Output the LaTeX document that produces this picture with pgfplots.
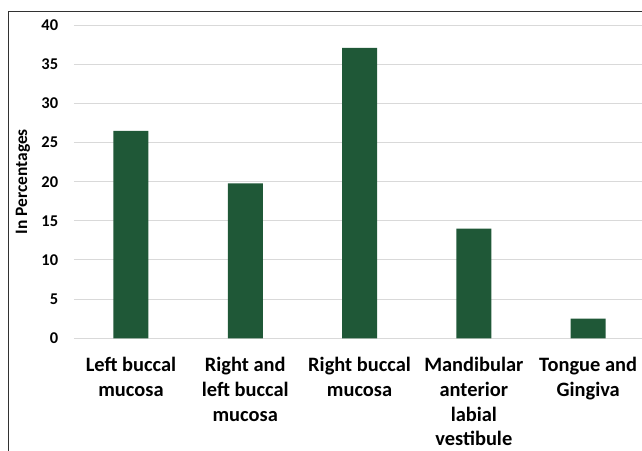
\documentclass[border=0pt]{standalone}
\usepackage{pgfplots}
\pgfplotsset{compat=1.18}
\usepackage{fontspec}
\setmainfont{Carlito}
\definecolor{barGreen}{RGB}{31,88,55}
\definecolor{gridGray}{RGB}{217,217,217}
\definecolor{frameGray}{RGB}{50,50,50}

\begin{document}
\begin{tikzpicture}[x=1bp,y=1bp]
\useasboundingbox (0,0) rectangle (642,451);
% chart area border (top and left edges)
\draw[frameGray, line width=1bp] (8.3,-5) -- (8.3,439.3) -- (660,439.3);
\begin{axis}[
  at={(73.8bp,112.7bp)}, anchor=south west,
  scale only axis, width=571.5bp, height=313.2bp,
  xmin=-0.5, xmax=4.5, ymin=0, ymax=40,
  enlargelimits=false,
  ybar, bar width=35bp,
  ytick={0,5,...,40},
  xtick={0,1,2,3,4},
  xticklabels={{Left buccal\\mucosa},{Right and\\left buccal\\mucosa},{Right buccal\\mucosa},{Mandibular\\anterior\\labial\\vestibule},{Tongue and\\Gingiva}},
  ymajorgrids, grid style={gridGray, line width=1bp},
  axis line style={draw=none},
  major tick length=0pt,
  /pgf/number format/assume math mode=true,
  yticklabel style={font=\fontsize{16.5}{19}\selectfont\bfseries, anchor=east, inner sep=0pt, xshift=-15.5bp},
  xticklabel style={font=\fontsize{20.5}{24.8}\selectfont\bfseries, align=center, anchor=north, inner sep=0pt, yshift=-19bp},
  every axis y label/.style={at={(axis description cs:-0.0889,0.5)}, rotate=90, anchor=center, font=\fontsize{17.5}{20}\selectfont\bfseries},
  ylabel={In Percentages},
  clip=false,
]
\addplot[fill=barGreen, draw=none] coordinates {(0,26.5) (1,19.8) (2,37.1) (3,14.0) (4,2.5)};
\end{axis}
\end{tikzpicture}
\end{document}
